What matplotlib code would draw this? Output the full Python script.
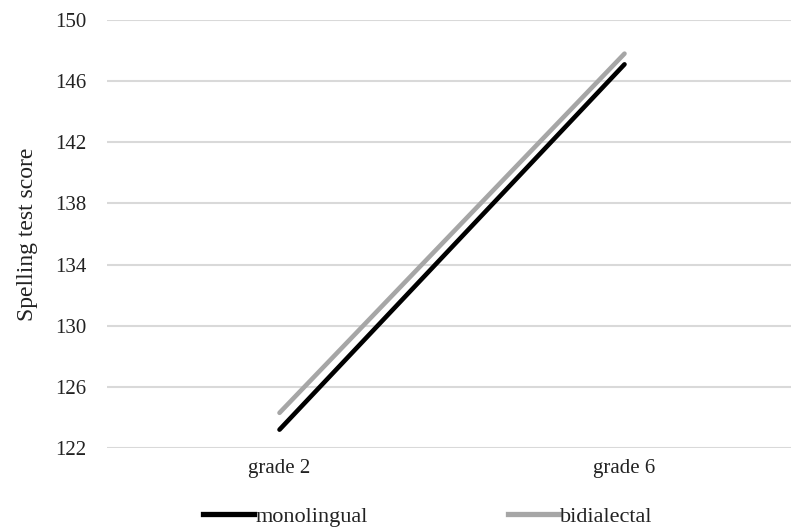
import matplotlib
matplotlib.use("Agg")
import matplotlib.pyplot as plt
from matplotlib.lines import Line2D

categories = ["grade 2", "grade 6"]
monolingual = [123.2, 147.1]
bidialectal = [124.3, 147.8]
yticks = [122, 126, 130, 134, 138, 142, 146, 150]
series_names = ["monolingual", "bidialectal"]
series_colors = ["black", "#a6a6a6"]

plt.rcParams['font.family'] = ['Liberation Serif', 'DejaVu Serif']

W, H = 791, 531
fig = plt.figure(figsize=(W/100, H/100), dpi=100)
ax = fig.add_axes([107/W, 1-448/H, 690/W, 428/H])

x = [0, 1]
ax.plot(x, bidialectal, color=series_colors[1], lw=3.3, solid_capstyle="round", zorder=3)
ax.plot(x, monolingual, color=series_colors[0], lw=3.3, solid_capstyle="round", zorder=4)

ax.set_xlim(-0.5, 1.5)
ax.set_ylim(122, 150)
ax.set_yticks(yticks)
ax.set_yticklabels([str(v) for v in yticks], fontsize=15, color="#222222")
ax.set_xticks(x)
ax.set_xticklabels(categories, fontsize=15, color="#222222")
ax.tick_params(length=0)
ax.tick_params(axis='y', pad=15)
ax.tick_params(axis='x', pad=8)
ax.grid(axis='y', color="#d9d9d9", lw=1.5)
ax.set_axisbelow(True)
for s in ax.spines.values():
    s.set_visible(False)
ax.set_ylabel("Spelling test score", fontsize=17, labelpad=12, color="#222222")

anchors = [203, 508]
for name, col, ax_x in zip(series_names, series_colors, anchors):
    fig.legend([Line2D([], [], color=col, lw=3.8)], [name], loc="center left",
               bbox_to_anchor=(ax_x/W, 1-517/H), frameon=False, fontsize=16,
               handlelength=2.3, handletextpad=0.05, borderpad=0, borderaxespad=0,
               labelcolor="#222222")

fig.savefig("out.png", dpi=100)
